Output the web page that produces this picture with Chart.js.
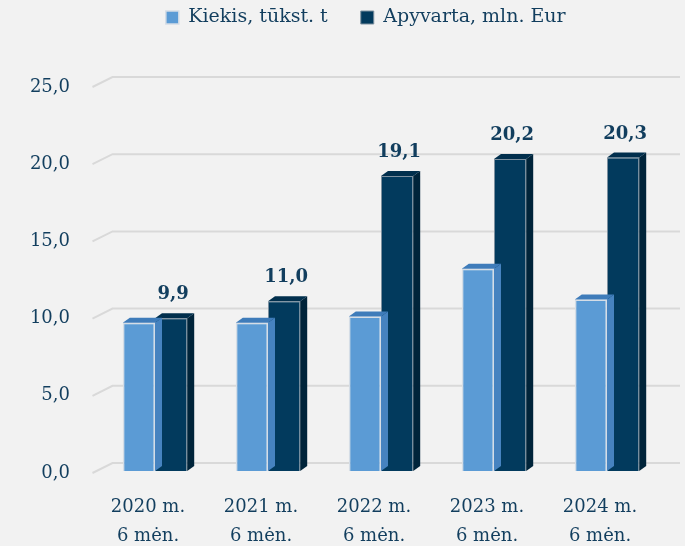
<!DOCTYPE html>
<html>
<head>
<meta charset="utf-8">
<script src="https://cdn.jsdelivr.net/npm/chart.js@4/dist/chart.umd.min.js"></script>
<style>
html,body{margin:0;padding:0;background:#f2f2f2;}
#wrap{width:685px;height:546px;position:relative;}
</style>
</head>
<body>
<div id="wrap"><canvas id="c"></canvas></div>
<script>
// ---- data ----
const categories = [["2020 m.", "6 mėn."], ["2021 m.", "6 mėn."], ["2022 m.", "6 mėn."], ["2023 m.", "6 mėn."], ["2024 m.", "6 mėn."]];
const kiekis = [9.6, 9.6, 10.0, 13.1, 11.1];
const apyvarta = [9.9, 11.0, 19.1, 20.2, 20.3];
const seriesNames = ["Kiekis, tūkst. t", "Apyvarta, mln. Eur"];
const yTicks = [0, 5, 10, 15, 20, 25];

// ---- style ----
const TEXT = '#123e5e';
const SERIF = '"DejaVu Serif", serif';
const faces = [
  {front: '#5b9bd5', top: '#3f7cba', side: '#4683c0', border: '#d5dde6'},
  {front: '#023a5d', top: '#012f4d', side: '#00243a', border: '#7d909f'}
];
const DX = 7, DY = 5;
const LEGEND_SHIFT = 29;

const fmt = v => v.toFixed(1).replace('.', ',');

const bgPlugin = {
  id: 'bg',
  beforeDraw(chart) {
    const ctx = chart.ctx;
    ctx.save();
    ctx.fillStyle = '#f2f2f2';
    ctx.fillRect(0, 0, chart.width, chart.height);
    ctx.restore();
  }
};

const legendPlugin = {
  id: 'legendFit',
  beforeLayout(chart) {
    const lg = chart.legend;
    if (lg && !lg._patched) {
      const orig = lg.fit;
      lg.fit = function () { orig.call(this); this.height = 110; };
      lg._patched = true;
    }
  },
  afterLayout(chart) {
    const lg = chart.legend;
    if (lg) { lg.left += LEGEND_SHIFT; lg.right += LEGEND_SHIFT; }
  }
};

const gridPlugin = {
  id: 'grid3d',
  beforeDatasetsDraw(chart) {
    const ctx = chart.ctx, y = chart.scales.y, area = chart.chartArea;
    ctx.save();
    ctx.strokeStyle = '#d9d9d9';
    ctx.lineWidth = 2;
    yTicks.forEach(v => {
      const py = y.getPixelForValue(v);
      ctx.beginPath();
      ctx.moveTo(area.left - 6, py + 2);
      ctx.lineTo(area.left + 14, py - 8);
      ctx.lineTo(chart.width - 5, py - 8);
      ctx.stroke();
    });
    ctx.restore();
  }
};

const barFacePlugin = {
  id: 'bar3d',
  afterDatasetDraw(chart, args) {
    const ctx = chart.ctx, f = faces[args.index];
    ctx.save();
    args.meta.data.forEach(el => {
      const p = el.getProps(['x', 'y', 'base', 'width'], true);
      const l = p.x - p.width / 2, r = p.x + p.width / 2;
      ctx.fillStyle = f.side;
      ctx.beginPath();
      ctx.moveTo(r, p.y);
      ctx.lineTo(r + DX, p.y - DY);
      ctx.lineTo(r + DX, p.base - DY);
      ctx.lineTo(r, p.base);
      ctx.closePath();
      ctx.fill();
      ctx.fillStyle = f.top;
      ctx.beginPath();
      ctx.moveTo(l, p.y);
      ctx.lineTo(l + DX, p.y - DY);
      ctx.lineTo(r + DX, p.y - DY);
      ctx.lineTo(r, p.y);
      ctx.closePath();
      ctx.fill();
    });
    ctx.restore();
  },
  afterDatasetsDraw(chart) {
    const ctx = chart.ctx;
    const meta = chart.getDatasetMeta(1);
    ctx.save();
    ctx.fillStyle = TEXT;
    ctx.font = 'bold 18px "DejaVu Serif", serif';
    ctx.textAlign = 'center';
    ctx.textBaseline = 'alphabetic';
    meta.data.forEach((el, i) => {
      const p = el.getProps(['x', 'y'], true);
      ctx.fillText(fmt(apyvarta[i]), p.x + 2, p.y - 19);
    });
    ctx.restore();
  }
};

new Chart(document.getElementById('c'), {
  type: 'bar',
  data: {
    labels: categories,
    datasets: [
      {label: seriesNames[0], data: kiekis, backgroundColor: faces[0].front, borderColor: faces[0].border, borderWidth: 1.5, categoryPercentage: 0.57, barPercentage: 1},
      {label: seriesNames[1], data: apyvarta, backgroundColor: faces[1].front, borderColor: faces[1].border, borderWidth: 1, categoryPercentage: 0.57, barPercentage: 1}
    ]
  },
  options: {
    responsive: true,
    maintainAspectRatio: false,
    animation: false,
    layout: {padding: {left: 10, right: 21.5, top: -25, bottom: 0}},
    plugins: {
      tooltip: {enabled: false},
      legend: {
        position: 'top',
        labels: {
          color: TEXT,
          font: {family: SERIF, size: 19},
          boxWidth: 13, boxHeight: 13,
          padding: 33
        }
      }
    },
    scales: {
      x: {
        grid: {display: false},
        border: {display: false},
        ticks: {color: TEXT, font: {family: SERIF, size: 18, lineHeight: 1.65}, padding: 13, labelOffset: -7, maxRotation: 0, autoSkip: false},
        afterFit(s) { s.height = 75; }
      },
      y: {
        min: 0, max: 25,
        grid: {display: false},
        border: {display: false},
        afterBuildTicks(s) { s.ticks = yTicks.map(v => ({value: v})); },
        ticks: {color: TEXT, font: {family: SERIF, size: 18}, padding: 20.5, labelOffset: 2, callback: v => fmt(v)},
        afterFit(s) { s.width = 88.5; }
      }
    }
  },
  plugins: [bgPlugin, legendPlugin, gridPlugin, barFacePlugin]
});
</script>
</body>
</html>
